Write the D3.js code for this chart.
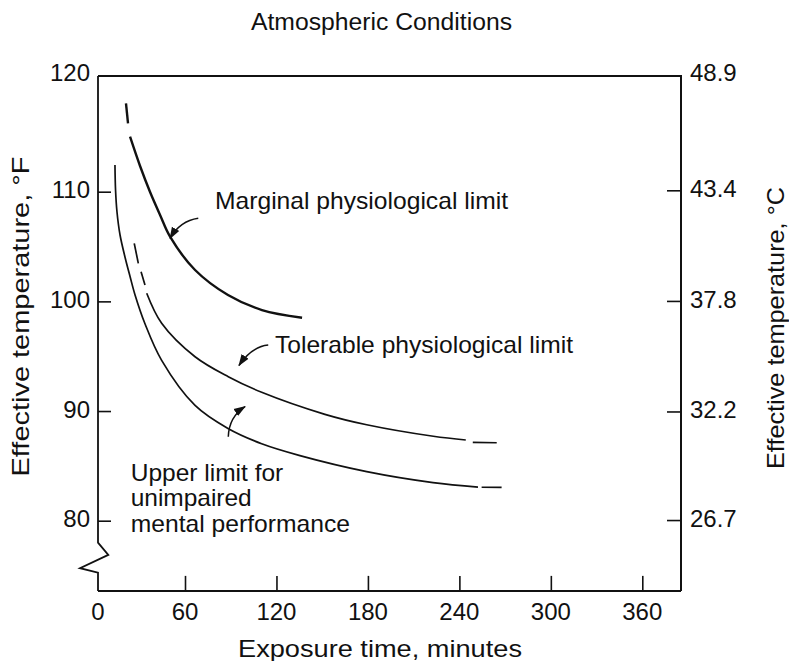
<!DOCTYPE html>
<html>
<head>
<meta charset="utf-8">
<script src="https://cdn.jsdelivr.net/npm/d3@7/dist/d3.min.js"></script>
<style>
  html, body { margin: 0; padding: 0; background: #fff; }
  svg { display: block; }
  text { font-family: "Liberation Sans", Arial, Helvetica, sans-serif; fill: #111; }
</style>
</head>
<body>
<svg id="chart" width="789" height="661"></svg>
<script>
// ---------------- data ----------------
const title = "Atmospheric Conditions";
const xTitle = "Exposure time, minutes";
const yTitleLeft = "Effective temperature, °F";
const yTitleRight = "Effective temperature, °C";

const xTickValues = [60, 120, 180, 240, 300, 360];
const xTickLabels = [0, 60, 120, 180, 240, 300, 360];
const yTickValuesF = [110, 100, 90, 80];
const yTickLabelsF = [120, 110, 100, 90, 80];
const yTickLabelsC = ["48.9", "43.4", "37.8", "32.2", "26.7"];

// [minutes, °F]
const marginalDash = [[19.3, 117.64], [20.7, 115.91]];
const marginalLine = [[22.1, 114.75], [29.0, 112.22], [35.9, 109.97], [42.8, 107.88], [49.7, 105.90],
                      [66.6, 102.86], [88.2, 100.58], [110.5, 99.21], [136.8, 98.51]];

const tolerableDash1 = [[25.0, 105.29], [27.8, 103.47]];
const tolerableDash2 = [[29.7, 102.71], [32.4, 101.49]];
const tolerableLine = [[33.6, 100.74], [43.9, 98.0], [66.6, 94.95], [88.4, 93.13], [110.3, 91.71],
                       [151.8, 89.70], [179.2, 88.75], [222.9, 87.70], [244.2, 87.36]];
const tolerableTail = [[248.8, 87.14], [264.5, 87.11]];

const mentalLine = [[11.7, 112.31], [12.1, 110.15], [13.1, 108.15], [15.2, 106.05], [18.6, 104.05],
                    [22.1, 102.27], [25.5, 100.61], [32.4, 97.96], [43.9, 94.62], [66.6, 90.51],
                    [88.2, 88.41], [110.3, 87.02], [135.4, 85.94], [179.2, 84.48], [222.7, 83.48],
                    [252.2, 83.07]];
const mentalTail = [[254.6, 83.05], [267.7, 83.03]];

// annotation arrows: [tail, control, head] in [minutes, °F]
const arrowMarginal = [[68.7, 107.57], [56.6, 107.33], [49.7, 105.75]];
const arrowTolerable = [[114.6, 96.02], [103.7, 95.87], [95.4, 94.15]];
const arrowMental = [[88.4, 87.66], [88.9, 89.48], [99.4, 90.40]];

const labelMarginal = ["Marginal physiological limit"];
const labelTolerable = ["Tolerable physiological limit"];
const labelMental = ["Upper limit for", "unimpaired", "mental performance"];

// ---------------- scales ----------------
const svg = d3.select("#chart");
const xMaxMin = 385.4;
const yTopF = 120, yBottomF = 73.6;

const x = d3.scaleLinear().domain([0, 60, 360, xMaxMin]).range([98, 185, 642.3, 681]);
const yF = d3.scaleLinear().domain([80, 110, 120]).range([520.7, 191.7, 76]);
const toC = f => (f - 32) * 5 / 9;
const yC = d3.scaleLinear().domain(yF.domain().map(toC)).range(yF.range());

const pL = x(0), pR = x(xMaxMin), pT = yF(yTopF), pB = yF(yBottomF);

const ink = "#111";
const fontTick = 24;

// ---------------- frame ----------------
const frame = svg.append("g").attr("fill", "none").attr("stroke", ink).attr("stroke-width", 2)
  .attr("stroke-linejoin", "miter");

frame.append("path").attr("d", d3.line()([[pL, pT], [pR, pT], [pR, pB]]));
frame.append("path").attr("d", d3.line()([[pL, pB], [pR, pB]]));
const breakTop = yF(78.0);
frame.append("path").attr("stroke-width", 1.8).attr("d", d3.line()([
  [pL, pT], [pL, breakTop], [pL + 10.3, breakTop + 12.3], [pL - 18, breakTop + 25.6],
  [pL, breakTop + 30], [pL, pB]
]));

// ---------------- axes ----------------
const gx = svg.append("g").attr("transform", `translate(0,${pB})`)
  .call(d3.axisTop(x).tickValues(xTickValues).tickSize(15).tickFormat(""));
gx.select(".domain").remove();
gx.selectAll(".tick line").attr("stroke", ink).attr("stroke-width", 1.6);

svg.append("g").selectAll("text").data(xTickLabels).join("text")
  .attr("x", d => x(d)).attr("y", 620)
  .attr("text-anchor", "middle").attr("font-size", fontTick).text(d => d);

const gyl = svg.append("g").attr("transform", `translate(${pL},0)`)
  .call(d3.axisRight(yF).tickValues(yTickValuesF).tickSize(13).tickFormat(""));
gyl.select(".domain").remove();
gyl.selectAll(".tick line").attr("stroke", ink).attr("stroke-width", 1.6);

svg.append("g").selectAll("text").data(yTickLabelsF).join("text")
  .attr("x", 90).attr("y", d => yF(d) - (d === 120 ? 3.5 : 2))
  .attr("dy", "0.36em").attr("text-anchor", "end").attr("font-size", fontTick).text(d => d);

const gyr = svg.append("g").attr("transform", `translate(${pR},0)`)
  .call(d3.axisLeft(yC).tickValues(yTickLabelsC.slice(1).map(Number)).tickSize(14).tickFormat(""));
gyr.select(".domain").remove();
gyr.selectAll(".tick line").attr("stroke", ink).attr("stroke-width", 1.6);

svg.append("g").selectAll("text").data(yTickLabelsC).join("text")
  .attr("x", 690).attr("y", (d, i) => yC(+d) - (i === 0 ? 3.5 : 2))
  .attr("dy", "0.36em").attr("text-anchor", "start").attr("font-size", fontTick).text(d => d);

// ---------------- titles ----------------
svg.append("text").attr("x", 381.5).attr("y", 30).attr("text-anchor", "middle")
  .attr("font-size", 23.5).attr("textLength", 261).attr("lengthAdjust", "spacingAndGlyphs").text(title);

svg.append("text").attr("x", 380).attr("y", 656.5).attr("text-anchor", "middle")
  .attr("font-size", 24.5).attr("textLength", 284).attr("lengthAdjust", "spacingAndGlyphs").text(xTitle);

svg.append("text").attr("transform", "translate(28.5,316.5) rotate(-90)").attr("text-anchor", "middle")
  .attr("font-size", 24).attr("textLength", 320).attr("lengthAdjust", "spacingAndGlyphs").text(yTitleLeft);

svg.append("text").attr("transform", "translate(783.5,328) rotate(-90)").attr("text-anchor", "middle")
  .attr("font-size", 24).attr("textLength", 282).attr("lengthAdjust", "spacingAndGlyphs").text(yTitleRight);

// ---------------- curves ----------------
const line = d3.line().x(d => x(d[0])).y(d => yF(d[1])).curve(d3.curveCatmullRom.alpha(0.5));
const curves = svg.append("g").attr("fill", "none").attr("stroke", ink).attr("stroke-linecap", "butt");

curves.append("path").attr("d", line(marginalDash)).attr("stroke-width", 2.4);
curves.append("path").attr("d", line(marginalLine)).attr("stroke-width", 2.4);

[tolerableDash1, tolerableDash2, tolerableLine, tolerableTail].forEach(seg =>
  curves.append("path").attr("d", line(seg)).attr("stroke-width", 1.7));

[mentalLine, mentalTail].forEach(seg =>
  curves.append("path").attr("d", line(seg)).attr("stroke-width", 1.7));

// ---------------- annotation arrows ----------------
svg.append("defs").append("marker")
  .attr("id", "ah").attr("markerUnits", "userSpaceOnUse")
  .attr("viewBox", "0 -5 12 10").attr("refX", 11).attr("refY", 0)
  .attr("markerWidth", 12).attr("markerHeight", 10).attr("orient", "auto")
  .append("path").attr("d", "M0,-4.2L12,0L0,4.2Z").attr("fill", ink);

const arrowPath = pts => {
  const p = d3.path();
  const [a, c, b] = pts.map(d => [x(d[0]), yF(d[1])]);
  p.moveTo(a[0], a[1]);
  p.quadraticCurveTo(c[0], c[1], b[0], b[1]);
  return p.toString();
};
[arrowMarginal, arrowTolerable, arrowMental].forEach(pts =>
  svg.append("path").attr("d", arrowPath(pts)).attr("fill", "none")
    .attr("stroke", ink).attr("stroke-width", 1.5).attr("marker-end", "url(#ah)"));

// ---------------- annotation labels ----------------
const annFont = 24;
svg.append("text").attr("x", 215).attr("y", 209).attr("font-size", annFont)
  .attr("textLength", 293).attr("lengthAdjust", "spacingAndGlyphs").text(labelMarginal[0]);
svg.append("text").attr("x", 275).attr("y", 353).attr("font-size", annFont)
  .attr("textLength", 298).attr("lengthAdjust", "spacingAndGlyphs").text(labelTolerable[0]);

const mentalLens = [152.6, 121, 219.3];
svg.append("g").selectAll("text").data(labelMental).join("text")
  .attr("x", 130.7).attr("y", (d, i) => 480.7 + i * 25.5).attr("font-size", annFont)
  .attr("textLength", (d, i) => mentalLens[i]).attr("lengthAdjust", "spacingAndGlyphs").text(d => d);
</script>
</body>
</html>
